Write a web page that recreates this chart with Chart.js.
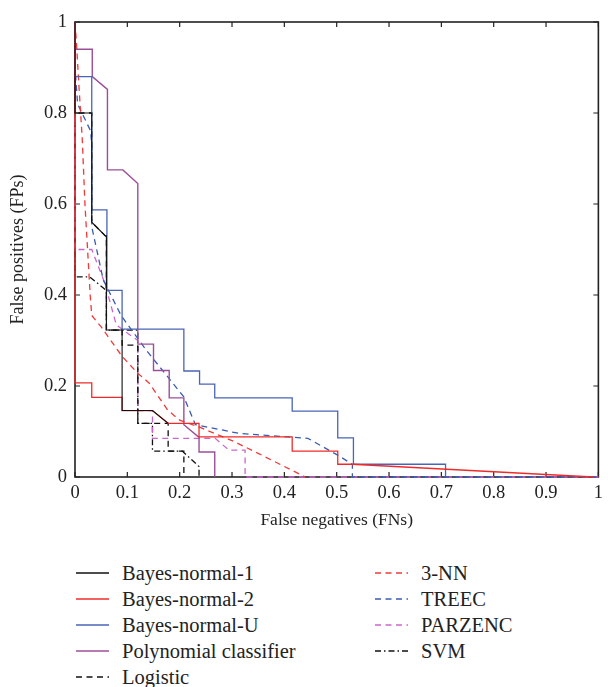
<!DOCTYPE html>
<html>
<head>
<meta charset="utf-8">
<script src="https://cdn.jsdelivr.net/npm/chart.js@4.4.1/dist/chart.umd.min.js"></script>
<style>
  body { margin: 0; background: #fff; }
  #wrap { position: relative; width: 608px; height: 687px; font-family: "Liberation Serif", "DejaVu Serif", serif; color: #222; }
  #legend .item { position: absolute; height: 24px; display: flex; align-items: center; font-size: 20.5px; white-space: nowrap; }
  #legend svg { margin-right: 13px; }
</style>
</head>
<body>
<div id="wrap">
  <canvas id="roc" width="608" height="545"></canvas>
  <div id="legend"></div>
</div>
<script>
	// ROC style curves, [FN, FP] pairs
	var bayesNormal1 = [[0,1],[0,0.8],[0.032,0.8],[0.032,0.56],[0.058,0.53],[0.06,0.53],[0.06,0.323],[0.09,0.323],[0.09,0.146],[0.148,0.146],[0.178,0.118]];
	var bayesNormal2 = [[0,1],[0,0.207],[0.032,0.207],[0.032,0.175],[0.09,0.175],[0.09,0.146],[0.148,0.146],[0.178,0.118],[0.237,0.118],[0.237,0.088],[0.415,0.088],[0.415,0.057],[0.502,0.057],[0.502,0.028],[0.53,0.028],[0.99,0]];
	var bayesNormalU = [[0,1],[0,0.88],[0.032,0.88],[0.032,0.587],[0.061,0.587],[0.061,0.41],[0.09,0.41],[0.09,0.325],[0.208,0.325],[0.208,0.233],[0.238,0.233],[0.238,0.204],[0.267,0.204],[0.267,0.174],[0.415,0.174],[0.415,0.145],[0.502,0.145],[0.502,0.086],[0.532,0.086],[0.532,0.028],[0.708,0.028],[0.708,0]];
	var polynomial = [[0,1],[0,0.94],[0.033,0.94],[0.033,0.88],[0.062,0.852],[0.062,0.675],[0.0915,0.675],[0.12,0.645],[0.12,0.292],[0.15,0.292],[0.15,0.234],[0.18,0.234],[0.18,0.174],[0.208,0.174],[0.208,0.115],[0.237,0.087],[0.237,0.055],[0.267,0.055],[0.267,0]];
	var logistic = [[0,1],[0,0.8],[0.032,0.8],[0.032,0.56],[0.058,0.53],[0.06,0.53],[0.06,0.323],[0.09,0.323],[0.09,0.29],[0.12,0.29],[0.12,0.118],[0.178,0.118],[0.178,0.057],[0.208,0.057],[0.208,0]];
	var threeNN = [[0,1],[0.003,0.95],[0.008,0.85],[0.014,0.74],[0.019,0.6],[0.024,0.5],[0.029,0.4],[0.032,0.355],[0.05,0.33],[0.09,0.265],[0.12,0.228],[0.142,0.206],[0.177,0.147],[0.2,0.125],[0.237,0.11],[0.3,0.08],[0.35,0.052],[0.44,0]];
	var treec = [[0,1],[0,0.9],[0.005,0.82],[0.03,0.76],[0.032,0.73],[0.032,0.55],[0.054,0.433],[0.088,0.355],[0.136,0.279],[0.208,0.176],[0.23,0.115],[0.3125,0.096],[0.42,0.087],[0.445,0.085],[0.502,0.048],[0.53,0.028],[0.53,0],[1,0]];
	var parzenc = [[0,1],[0,0.5],[0.032,0.5],[0.057,0.426],[0.079,0.334],[0.12,0.3],[0.12,0.146],[0.148,0.146],[0.148,0.085],[0.268,0.085],[0.294,0.059],[0.325,0.059],[0.325,0],[1,0]];
	var svm = [[0,1],[0,0.44],[0.028,0.44],[0.06,0.41],[0.06,0.323],[0.09,0.323],[0.12,0.323],[0.12,0.118],[0.148,0.118],[0.148,0.057],[0.205,0.057],[0.237,0.023],[0.237,0]];

	var seriesNames = ['Bayes-normal-1','Bayes-normal-2','Bayes-normal-U','Polynomial classifier','Logistic','3-NN','TREEC','PARZENC','SVM'];
	var seriesData = [bayesNormal1, bayesNormal2, bayesNormalU, polynomial, logistic, threeNN, treec, parzenc, svm];

	var xTickLabels = ['0','0.1','0.2','0.3','0.4','0.5','0.6','0.7','0.8','0.9','1'];
	var yTickLabels = ['0','0.2','0.4','0.6','0.8','1'];

	var lineColors = ['#111111','#f02a2a','#4a64b6','#9c4f98','#111111','#f03a3a','#3a5cb0','#cc66cc','#111111'];
	var lineWidths = [1.1,1.3,1.3,1.4,1.3,1.3,1.3,1.3,1.3];
	var lineDashes = [[],[],[],[],[6,4.5],[6,4.5],[6,4.5],[6,4.5],[6,3,1.5,3]];

	var serif = '"Liberation Serif", "DejaVu Serif", serif';

	function toPoints(arr) {
		return arr.map(function (p) { return {x: p[0], y: p[1]}; });
	}

	var datasets = seriesData.map(function (arr, i) {
		return {
			label: seriesNames[i],
			data: toPoints(arr),
			borderColor: lineColors[i],
			borderWidth: lineWidths[i],
			borderDash: lineDashes[i],
			pointRadius: 0,
			fill: false,
			tension: 0,
			clip: false
		};
	});

	// box round the plot with inward ticks on all four sides
	var frameTicks = {
		id: 'frameTicks',
		beforeDatasetsDraw: function (chart) {
			var ctx = chart.ctx, a = chart.chartArea;
			var x = chart.scales.x, y = chart.scales.y;
			ctx.save();
			ctx.strokeStyle = '#222';
			ctx.lineWidth = 1.6;
			ctx.strokeRect(a.left, a.top, a.right - a.left, a.bottom - a.top);
			ctx.lineWidth = 1.2;
			ctx.beginPath();
			x.ticks.forEach(function (t) {
				var px = x.getPixelForValue(t.value);
				ctx.moveTo(px, a.bottom); ctx.lineTo(px, a.bottom - 5);
				ctx.moveTo(px, a.top); ctx.lineTo(px, a.top + 5);
			});
			y.ticks.forEach(function (t) {
				var py = y.getPixelForValue(t.value);
				ctx.moveTo(a.left, py); ctx.lineTo(a.left + 5, py);
				ctx.moveTo(a.right, py); ctx.lineTo(a.right - 5, py);
			});
			ctx.stroke();
			ctx.restore();
		}
	};

	var ctx = document.getElementById('roc').getContext('2d');
	var rocChart = new Chart(ctx, {
		type: 'line',
		data: { datasets: datasets },
		options: {
			responsive: false,
			animation: false,
			layout: { padding: { top: 22, right: 5, left: 0, bottom: 0 } },
			plugins: { legend: { display: false }, tooltip: { enabled: false } },
			scales: {
				x: {
					type: 'linear', min: 0, max: 1,
					afterFit: function (s) { s.height = 68; },
					grid: { display: false, drawTicks: false },
					border: { display: false },
					ticks: {
						stepSize: 0.1, padding: 5, color: '#222', maxRotation: 0, autoSkip: false,
						font: { family: serif, size: 18.5 },
						callback: function (v, i) { return xTickLabels[i]; }
					},
					title: { display: true, text: 'False negatives (FNs)', color: '#222', font: { family: serif, size: 17.5 }, padding: { top: 0, bottom: 14 } }
				},
				y: {
					type: 'linear', min: 0, max: 1,
					afterFit: function (s) { s.width = 75; },
					grid: { display: false, drawTicks: false },
					border: { display: false },
					ticks: {
						stepSize: 0.2, padding: 8, color: '#222',
						font: { family: serif, size: 18.5 },
						callback: function (v, i) { return yTickLabels[i]; }
					},
					title: { display: true, text: 'False positives (FPs)', color: '#222', font: { family: serif, size: 18 }, padding: { top: 7, bottom: 0 } }
				}
			}
		},
		plugins: [frameTicks]
	});

	// two column legend under the chart
	var legend = document.getElementById('legend');
	seriesNames.forEach(function (name, i) {
		var col = i < 5 ? 0 : 1;
		var row = col == 0 ? i : i - 5;
		var item = document.createElement('div');
		item.className = 'item';
		item.style.left = (col == 0 ? 76 : 375) + 'px';
		item.style.top = (561 + row * 26) + 'px';
		var dash = lineDashes[i].join(' ');
		item.innerHTML = '<svg width="33" height="10"><line x1="0" y1="5" x2="33" y2="5" stroke="' + lineColors[i] +
			'" stroke-width="1.3"' + (dash ? ' stroke-dasharray="' + dash + '"' : '') + '/></svg>' + name;
		legend.appendChild(item);
	});
</script>
</body>
</html>
